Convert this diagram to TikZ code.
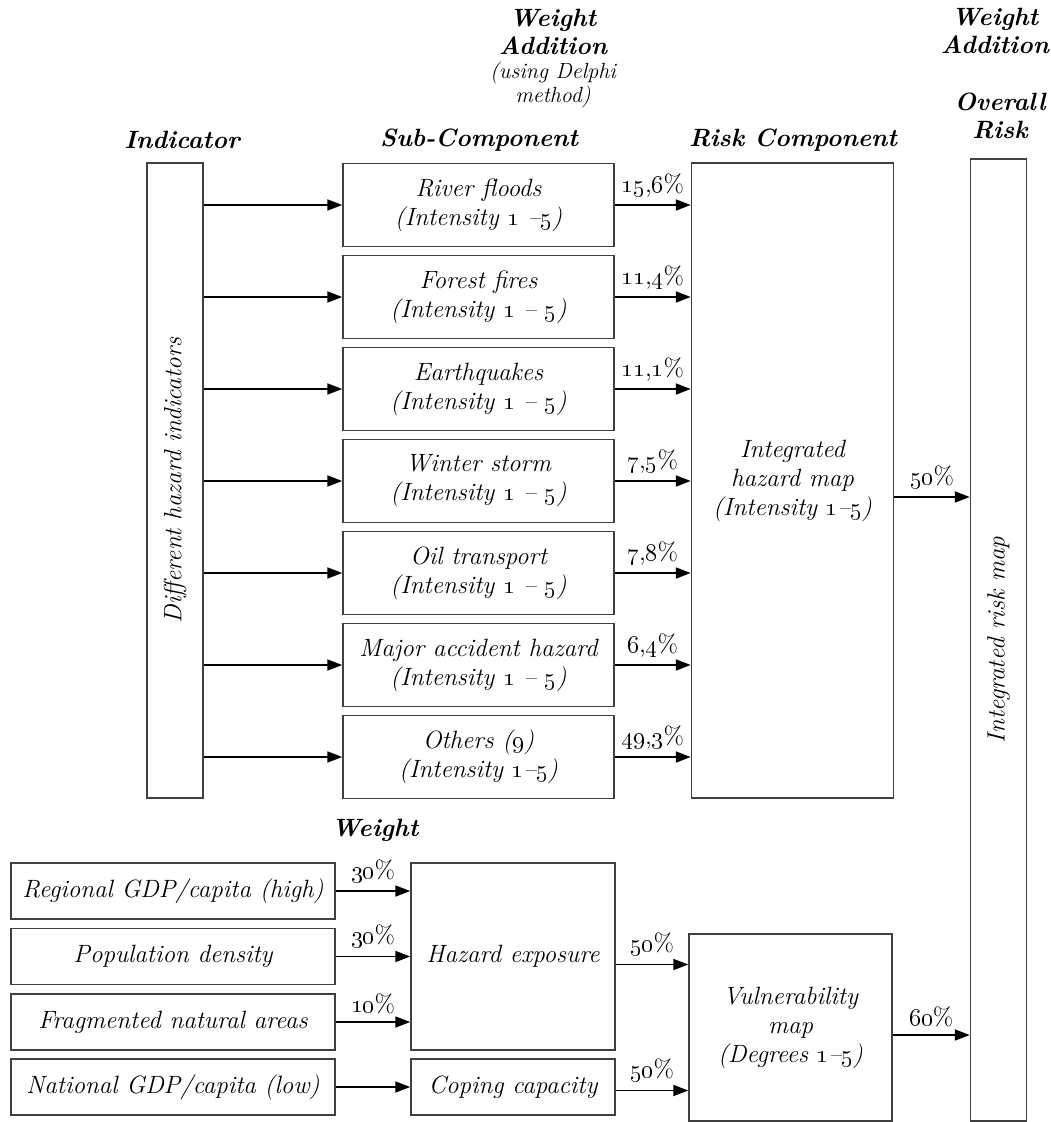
\documentclass[tikz,border=0pt]{standalone}
\usetikzlibrary{arrows.meta}
\newcommand{\os}[1]{\oldstylenums{#1}}

\begin{document}
\begin{tikzpicture}[x=0.5pt, y=-0.5pt,
    component/.style ={draw=black!75, line width=0.75pt, inner sep=2pt, align=center, font=\fontsize{12.5}{14.5}\selectfont\itshape},
    subcomp/.style ={component, minimum width=135.5pt, minimum height=41.5pt},
    factor/.style ={component, minimum width=162pt, minimum height=28pt},
    column/.style ={component, rotate=90, minimum height=28pt},
    heading/.style ={font=\fontsize{12.5}{14}\selectfont\bfseries\itshape, align=center},
    weight/.style ={font=\fontsize{12.5}{14}\selectfont, inner sep=3.5pt, above},
    flow/.style ={line width=0.9pt, -{Triangle[length=7.5pt, width=5.5pt]}}]
   \useasboundingbox (0,0) rectangle (1050,1122);
   % headings
   \node[heading] (hind)  at (182,140)  {Indicator};
   \node[heading] (hsub)  at (479,140)  {Sub-Component};
   \node[heading] (hrisk) at (793,140)  {Risk Component};
   \node[heading] (hall)  at (1000,116) {Overall\\Risk};
   \node[heading] (hwadd) at (553,32)   {Weight\\Addition};
   \node[font=\fontsize{11}{12}\selectfont\itshape, align=center] (hdelphi) at (553,85) {(using Delphi\\method)};
   \node[heading] (hwall) at (995,31)   {Weight\\Addition};
   \node[heading] (hw)    at (375,830)  {Weight};
   % hazard part
   \node[column, minimum width=317.5pt] (ind) at (175,480.5) {Different hazard indicators};
   \node[subcomp] (s1) at (478.5,205) {River floods\\(Intensity \os{1} --\os{5})};
   \node[subcomp] (s2) at (478.5,297) {Forest fires\\(Intensity \os{1} -- \os{5})};
   \node[subcomp] (s3) at (478.5,389) {Earthquakes\\(Intensity \os{1} -- \os{5})};
   \node[subcomp] (s4) at (478.5,481) {Winter storm\\(Intensity \os{1} -- \os{5})};
   \node[subcomp] (s5) at (478.5,573) {Oil transport\\(Intensity \os{1} -- \os{5})};
   \node[subcomp] (s6) at (478.5,665) {Major accident hazard\\(Intensity \os{1} -- \os{5})};
   \node[subcomp] (s7) at (478.5,757) {Others (\os{9})\\(Intensity \os{1}--\os{5})};
   \node[component, minimum width=101pt, minimum height=317.5pt] (risk) at (792.5,480.5) {Integrated\\hazard map\\(Intensity \os{1}--\os{5})};
   \node[column, minimum width=481pt] (all) at (998.5,640) {Integrated risk map};
   % vulnerability part
   \node[factor] (f1) at (173,891)    {Regional GDP/capita (high)};
   \node[factor] (f2) at (173,956.5)  {Population density};
   \node[factor] (f3) at (173,1022)   {Fragmented natural areas};
   \node[factor] (f4) at (173,1087)   {National GDP/capita (low)};
   \node[component, minimum width=102pt, minimum height=93.5pt] (expo) at (513,956.5) {Hazard exposure};
   \node[component, minimum width=102pt, minimum height=28pt] (cope) at (513,1087) {Coping capacity};
   \node[component, minimum width=101.5pt, minimum height=93.5pt] (vuln) at (790.5,1027.5) {Vulnerability\\map\\(Degrees \os{1}--\os{5})};
   % indicator to sub-components
   \draw[flow] (ind.south |- s1.west) -- (s1.west);
   \draw[flow] (ind.south |- s2.west) -- (s2.west);
   \draw[flow] (ind.south |- s3.west) -- (s3.west);
   \draw[flow] (ind.south |- s4.west) -- (s4.west);
   \draw[flow] (ind.south |- s5.west) -- (s5.west);
   \draw[flow] (ind.south |- s6.west) -- (s6.west);
   \draw[flow] (ind.south |- s7.west) -- (s7.west);
   % sub-components to risk component
   \draw[flow] (s1.east) -- (s1.east -| risk.west) node[weight, midway] (w1) {\os{15},\os{6}\%};
   \draw[flow] (s2.east) -- (s2.east -| risk.west) node[weight, midway] (w2) {\os{11},\os{4}\%};
   \draw[flow] (s3.east) -- (s3.east -| risk.west) node[weight, midway] (w3) {\os{11},\os{1}\%};
   \draw[flow] (s4.east) -- (s4.east -| risk.west) node[weight, midway] (w4) {\os{7},\os{5}\%};
   \draw[flow] (s5.east) -- (s5.east -| risk.west) node[weight, midway] (w5) {\os{7},\os{8}\%};
   \draw[flow] (s6.east) -- (s6.east -| risk.west) node[weight, midway] (w6) {\os{6},\os{4}\%};
   \draw[flow] (s7.east) -- (s7.east -| risk.west) node[weight, midway] (w7) {\os{49},\os{3}\%};
   \draw[flow] ([yshift=-8.25pt]risk.east) -- ([yshift=-8.25pt]risk.east -| all.north) node[weight, midway] (wr) {\os{50}\%};
   % factors to vulnerability
   \draw[flow] (f1.east) -- (f1.east -| expo.west) node[weight, midway] (v1) {\os{30}\%};
   \draw[flow] (f2.east) -- (f2.east -| expo.west) node[weight, midway] (v2) {\os{30}\%};
   \draw[flow] (f3.east) -- (f3.east -| expo.west) node[weight, midway] (v3) {\os{10}\%};
   \draw[flow] (f4.east) -- (cope.west);
   \draw[flow] ([yshift=-4pt]expo.east) -- ([yshift=-4pt]expo.east -| vuln.west) node[weight, midway] (v4) {\os{50}\%};
   \draw[flow] ([yshift=-1.75pt]cope.east) -- ([yshift=-1.75pt]cope.east -| vuln.west) node[weight, midway] (v5) {\os{50}\%};
   \draw[flow] ([yshift=-3.75pt]vuln.east) -- ([yshift=-3.75pt]vuln.east -| all.north) node[weight, midway] (vr) {\os{60}\%};
 \end{tikzpicture}
\end{document}
